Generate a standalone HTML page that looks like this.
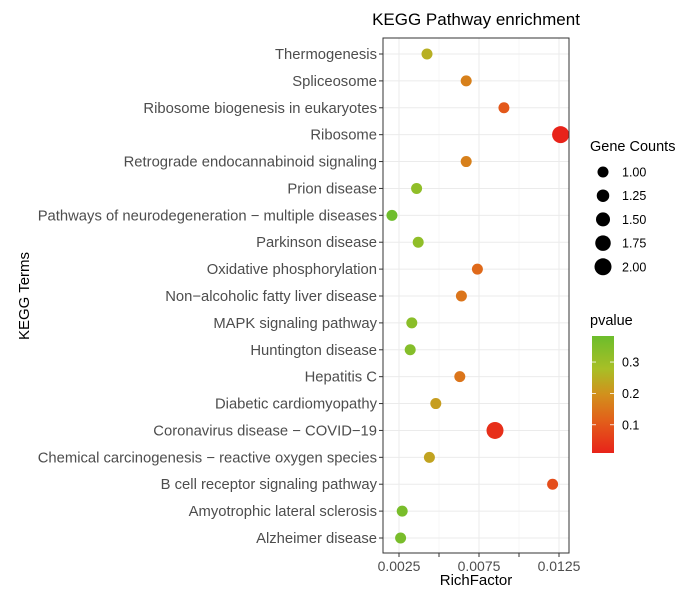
<!DOCTYPE html>
<html><head><meta charset="utf-8"><style>
body{margin:0;background:#fff;}
svg{display:block;font-family:"Liberation Sans",Arial,sans-serif;}
</style></head><body>
<svg id="chart" width="690" height="606">
<text x="476" y="25" text-anchor="middle" font-size="17" fill="#000">KEGG Pathway enrichment</text>
<text x="476" y="585" text-anchor="middle" font-size="15" fill="#000">RichFactor</text>
<text transform="translate(29,296) rotate(-90)" text-anchor="middle" font-size="15" fill="#000">KEGG Terms</text>
<g id="grid"></g><g id="ylabels"></g><g id="xlabels"></g><g id="points"></g>
<rect x="383" y="38" width="186" height="515" fill="none" stroke="#333" stroke-width="1"/>
<g>
<text x="590" y="151" font-size="14.5" fill="#000">Gene Counts</text>
<g id="sizeleg"></g>
</g>
<g>
<text x="590" y="325" font-size="14.5" fill="#000">pvalue</text>
<defs><linearGradient id="pg" x1="0" y1="1" x2="0" y2="0">
<stop offset="0" stop-color="#e8231a"/><stop offset="0.28" stop-color="#e2601a"/><stop offset="0.5" stop-color="#d2901c"/><stop offset="0.72" stop-color="#a8bf26"/><stop offset="1" stop-color="#6cbd2c"/></linearGradient></defs>
<rect x="592" y="336" width="22" height="117" fill="url(#pg)"/>
<g id="cbticks"></g>
</g>
</svg>
<script>
const terms=["Thermogenesis","Spliceosome","Ribosome biogenesis in eukaryotes","Ribosome","Retrograde endocannabinoid signaling","Prion disease","Pathways of neurodegeneration \u2212 multiple diseases","Parkinson disease","Oxidative phosphorylation","Non\u2212alcoholic fatty liver disease","MAPK signaling pathway","Huntington disease","Hepatitis C","Diabetic cardiomyopathy","Coronavirus disease \u2212 COVID\u221219","Chemical carcinogenesis \u2212 reactive oxygen species","B cell receptor signaling pathway","Amyotrophic lateral sclerosis","Alzheimer disease"];
const richFactor=[0.00425,0.0067,0.00906,0.0126,0.0067,0.0036,0.00206,0.0037,0.0074,0.0064,0.0033,0.0032,0.0063,0.0048,0.0085,0.0044,0.0121,0.0027,0.0026];
const geneCounts=[1,1,1,2,1,1,1,1,1,1,1,1,1,1,2,1,1,1,1];
const pvalues=[0.25,0.17,0.1,0.01,0.17,0.32,0.38,0.32,0.13,0.15,0.33,0.34,0.15,0.22,0.03,0.23,0.08,0.36,0.36];
const xTicks=[0.0025,0.0075,0.0125];
const xTickLabels=["0.0025","0.0075","0.0125"];
const xMinor=[0.005,0.01];
const sizeLegend=[1,1.25,1.5,1.75,2];
const sizeLegendLabels=["1.00","1.25","1.50","1.75","2.00"];
const cbTicks=[0.1,0.2,0.3];
const cbLabels=["0.1","0.2","0.3"];

const NS="http://www.w3.org/2000/svg";
function mk(t,a,p){const e=document.createElementNS(NS,t);for(const k in a)e.setAttribute(k,a[k]);p.appendChild(e);return e;}
const x=v=>399+(v-0.0025)*16000;
const y=i=>54+i*(538-54)/18;
const r=c=>5.5+(c-1)*3;
const pMin=0.01,pMax=0.383;
const cbY=p=>453-(p-pMin)/(pMax-pMin)*117;
const stops=[[0,[232,35,26]],[0.28,[226,96,26]],[0.5,[210,144,28]],[0.72,[168,191,38]],[1,[108,189,44]]];
function col(p){let t=Math.max(0,Math.min(1,(p-pMin)/(pMax-pMin)));for(let i=1;i<stops.length;i++){if(t<=stops[i][0]){const a=stops[i-1],b=stops[i];const f=(t-a[0])/(b[0]-a[0]);return "rgb("+a[1].map((c,j)=>Math.round(c+(b[1][j]-c)*f)).join(",")+")";}}return "rgb(108,189,44)";}
const g=document.getElementById('grid'),yl=document.getElementById('ylabels'),xl=document.getElementById('xlabels'),pts=document.getElementById('points');
xMinor.forEach(v=>{const l=mk('line',{x1:x(v),x2:x(v),y1:38,y2:553,stroke:'#f2f2f2','stroke-width':0.6},g);});
xTicks.forEach((v,i)=>{const l=mk('line',{x1:x(v),x2:x(v),y1:38,y2:553,stroke:'#ebebeb','stroke-width':1},g);
const tk=mk('line',{x1:x(v),x2:x(v),y1:553,y2:557,stroke:'#333'},xl);
const t=mk('text',{x:x(v),y:571,'text-anchor':'middle','font-size':14,fill:'#4d4d4d'},xl);t.textContent=xTickLabels[i];});
xMinor.forEach(v=>{const tk=mk('line',{x1:x(v),x2:x(v),y1:553,y2:557,stroke:'#333'},xl);});
terms.forEach((tm,i)=>{const l=mk('line',{x1:383,x2:569,y1:y(i),y2:y(i),stroke:'#ebebeb'},g);
const tk=mk('line',{x1:379,x2:383,y1:y(i),y2:y(i),stroke:'#333'},yl);
const t=mk('text',{x:377,y:y(i)+5,'text-anchor':'end','font-size':14.8,fill:'#4d4d4d'},yl);t.textContent=tm;
const c=mk('circle',{cx:x(richFactor[i]),cy:y(i),r:r(geneCounts[i]),fill:col(pvalues[i])},pts);});
const sl=document.getElementById('sizeleg');
sizeLegend.forEach((v,i)=>{const cy=172+i*23.7;const c=mk('circle',{cx:603,cy:cy,r:r(v),fill:'#000'},sl);
const t=mk('text',{x:622,y:cy+4.5,'font-size':12.5,fill:'#000'},sl);t.textContent=sizeLegendLabels[i];});
const cb=document.getElementById('cbticks');
cbTicks.forEach((v,i)=>{const yy=cbY(v);mk('line',{x1:592,x2:596,y1:yy,y2:yy,stroke:'#fff','stroke-width':0.8},cb);mk('line',{x1:610,x2:614,y1:yy,y2:yy,stroke:'#fff','stroke-width':0.8},cb);
const t=mk('text',{x:622,y:yy+4.5,'font-size':12.5,fill:'#000'},cb);t.textContent=cbLabels[i];});
</script>
</body></html>
